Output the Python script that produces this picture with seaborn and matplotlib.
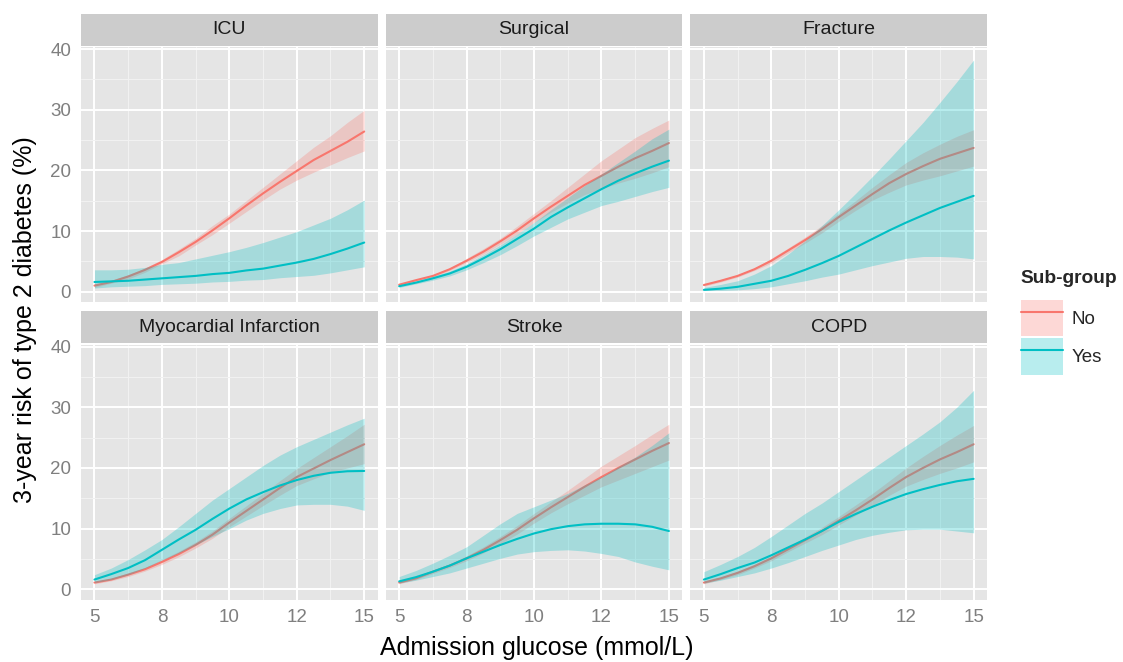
import numpy as np
import pandas as pd
import matplotlib
matplotlib.use("Agg")
import matplotlib.pyplot as plt
from matplotlib.patches import Rectangle, Patch
from matplotlib.lines import Line2D
import seaborn as sns

# Admission glucose grid (mmol/L)
glucose = [5, 5.75, 6.5, 7.25, 8, 8.5, 9, 9.5, 10, 10.5, 11, 11.5, 12,
           12.75, 13.5, 14.25, 15]

panels = ["ICU", "Surgical", "Fracture", "Myocardial Infarction", "Stroke", "COPD"]
subgroups = ["No", "Yes"]

# Estimated 3-year risk (%) with lower / upper confidence limits
icu_no = [1.0, 1.6, 2.5, 3.6, 4.9, 6.5, 8.2, 10.1, 12.1, 14.2, 16.2, 18.1, 19.9,
          21.7, 23.2, 24.7, 26.4]
icu_no_lo = [0.7, 1.4, 2.1, 3.2, 4.6, 5.9, 7.7, 9.4, 11.3, 13.2, 15.1, 16.9, 18.4,
             19.7, 20.9, 22.1, 23.2]
icu_no_hi = [1.3, 1.9, 2.8, 3.9, 5.3, 7.0, 8.8, 10.9, 12.8, 15.0, 17.2, 19.4, 21.6,
             23.8, 25.7, 27.9, 29.9]
icu_yes = [1.6, 1.7, 1.8, 2.0, 2.2, 2.4, 2.6, 2.9, 3.1, 3.5, 3.8, 4.3, 4.8,
           5.4, 6.2, 7.1, 8.1]
icu_yes_lo = [0.6, 0.8, 0.9, 1.0, 1.2, 1.3, 1.4, 1.6, 1.7, 1.9, 2.0, 2.3, 2.5,
              2.7, 3.1, 3.6, 4.1]
icu_yes_hi = [3.6, 3.6, 3.7, 4.0, 4.5, 4.8, 5.4, 6.0, 6.6, 7.3, 8.1, 9.0, 9.9,
              11.0, 12.1, 13.5, 15.1]

surg_no = [1.15, 1.9, 2.6, 3.7, 5.1, 6.6, 8.3, 10.1, 12.1, 14.0, 15.8, 17.6, 19.1,
           20.6, 22.0, 23.2, 24.5]
surg_no_lo = [1.0, 1.8, 2.4, 3.5, 4.8, 6.2, 7.8, 9.5, 11.4, 13.1, 14.6, 16.0, 17.0,
              17.9, 18.7, 19.6, 20.6]
surg_no_hi = [1.3, 2.0, 2.8, 3.9, 5.5, 7.1, 8.8, 10.8, 12.9, 15.0, 17.2, 19.4, 21.6,
              23.5, 25.4, 26.9, 28.3]
surg_yes = [0.9, 1.5, 2.2, 3.0, 4.1, 5.5, 7.0, 8.7, 10.4, 12.3, 13.9, 15.4, 16.9,
            18.3, 19.5, 20.6, 21.6]
surg_yes_lo = [0.7, 1.3, 1.9, 2.6, 3.6, 4.8, 6.1, 7.6, 9.2, 10.6, 12.0, 13.1, 14.2,
               14.9, 15.7, 16.5, 17.2]
surg_yes_hi = [1.1, 1.7, 2.5, 3.4, 4.6, 6.1, 7.7, 9.5, 11.4, 13.5, 15.5, 17.5, 19.4,
               21.3, 23.2, 25.2, 26.8]

frac_no = [1.1, 1.8, 2.6, 3.7, 5.1, 6.8, 8.5, 10.3, 12.3, 14.2, 16.1, 17.9, 19.4,
           20.7, 21.9, 22.8, 23.7]
frac_no_lo = [0.9, 1.6, 2.4, 3.5, 4.7, 6.4, 8.0, 9.7, 11.6, 13.4, 15.1, 16.4, 17.6,
              18.4, 19.1, 19.9, 20.7]
frac_no_hi = [1.3, 2.0, 2.8, 3.9, 5.5, 7.2, 9.0, 10.9, 12.9, 15.0, 17.2, 19.3, 21.3,
              22.9, 24.3, 25.6, 26.7]
frac_yes = [0.3, 0.5, 0.8, 1.3, 1.8, 2.6, 3.6, 4.7, 5.9, 7.3, 8.7, 10.1, 11.4,
            12.6, 13.8, 14.8, 15.8]
frac_yes_lo = [0.2, 0.2, 0.3, 0.5, 0.8, 1.3, 1.8, 2.4, 2.9, 3.6, 4.3, 4.9, 5.5,
               5.8, 5.8, 5.7, 5.4]
frac_yes_hi = [0.7, 1.2, 1.8, 2.9, 4.3, 6.2, 8.4, 10.9, 13.5, 16.2, 19.0, 21.9, 24.9,
               27.9, 31.2, 34.6, 38.2]

mi_no = [1.1, 1.6, 2.4, 3.3, 4.5, 5.8, 7.3, 9.0, 11.0, 12.9, 14.8, 16.7, 18.5,
         19.9, 21.3, 22.6, 23.9]
mi_no_lo = [0.9, 1.4, 2.1, 3.0, 4.1, 5.35, 6.8, 8.4, 10.3, 12.05, 13.8, 15.5, 17.1,
            18.2, 19.3, 20.0, 20.7]
mi_no_hi = [1.3, 1.8, 2.7, 3.6, 4.9, 6.25, 7.8, 9.6, 11.7, 13.75, 15.8, 17.9, 19.9,
            21.7, 23.5, 25.3, 27.2]
mi_yes = [1.6, 2.5, 3.5, 4.8, 6.5, 8.2, 9.8, 11.6, 13.3, 14.8, 16.0, 17.1, 18.0,
          18.7, 19.2, 19.45, 19.5]
mi_yes_lo = [1.1, 1.6, 2.4, 3.5, 4.8, 6.0, 7.3, 8.7, 10.0, 11.4, 12.5, 13.3, 13.9,
             14.0, 14.0, 13.7, 13.0]
mi_yes_hi = [2.4, 3.5, 4.9, 6.5, 8.2, 10.3, 12.5, 14.7, 16.6, 18.5, 20.4, 22.1, 23.5,
             24.7, 25.9, 27.1, 28.2]

stroke_no = [1.1, 1.8, 2.9, 3.9, 5.1, 6.5, 8.1, 9.8, 11.7, 13.5, 15.2, 16.9, 18.5,
             20.0, 21.4, 22.8, 24.1]
stroke_no_lo = [0.9, 1.6, 2.6, 3.6, 4.7, 6.0, 7.5, 9.1, 10.9, 12.6, 14.1, 15.5, 16.9,
                18.0, 19.1, 20.2, 21.3]
stroke_no_hi = [1.3, 2.0, 3.2, 4.2, 5.5, 7.0, 8.7, 10.5, 12.5, 14.4, 16.3, 18.3, 20.3,
                22.0, 23.7, 25.5, 27.2]
stroke_yes = [1.3, 2.0, 2.9, 3.9, 5.1, 6.2, 7.3, 8.3, 9.2, 9.9, 10.4, 10.7, 10.8,
              10.8, 10.7, 10.3, 9.6]
stroke_yes_lo = [1.0, 1.5, 2.1, 2.7, 3.5, 4.3, 5.1, 5.8, 6.2, 6.4, 6.5, 6.3, 5.9,
                 5.4, 4.5, 3.8, 3.2]
stroke_yes_hi = [2.1, 3.1, 4.3, 5.6, 7.0, 8.9, 10.8, 12.5, 13.6, 14.7, 15.8, 17.2, 18.5,
                 20.2, 21.8, 23.7, 25.8]

copd_no = [1.1, 1.8, 2.7, 3.8, 5.1, 6.6, 8.1, 9.6, 11.3, 13.0, 14.8, 16.7, 18.5,
           20.0, 21.4, 22.6, 23.9]
copd_no_lo = [0.9, 1.6, 2.4, 3.5, 4.7, 6.2, 7.6, 9.0, 10.6, 12.2, 13.8, 15.5, 17.0,
              18.1, 19.1, 20.0, 21.0]
copd_no_hi = [1.3, 2.0, 3.0, 4.1, 5.5, 7.0, 8.6, 10.2, 12.0, 13.9, 15.8, 17.9, 20.0,
              21.9, 23.7, 25.4, 27.0]
copd_yes = [1.6, 2.5, 3.5, 4.4, 5.6, 6.9, 8.2, 9.6, 11.1, 12.4, 13.6, 14.7, 15.7,
            16.5, 17.2, 17.8, 18.2]
copd_yes_lo = [1.0, 1.5, 2.1, 2.7, 3.5, 4.4, 5.4, 6.4, 7.3, 8.2, 8.9, 9.4, 9.8,
               9.9, 9.9, 9.6, 9.3]
copd_yes_hi = [2.9, 4.1, 5.4, 6.9, 8.7, 10.6, 12.5, 14.2, 16.1, 18.0, 19.9, 21.8, 23.7,
               25.6, 27.6, 30.0, 32.8]

x_ticks = [5, 8, 10, 12, 15]
x_minor = [6.5, 9, 11, 13.5]
y_ticks = [0, 10, 20, 30, 40]
y_minor = [5, 15, 25, 35]

series = [
    ("ICU", "No", icu_no, icu_no_lo, icu_no_hi),
    ("ICU", "Yes", icu_yes, icu_yes_lo, icu_yes_hi),
    ("Surgical", "No", surg_no, surg_no_lo, surg_no_hi),
    ("Surgical", "Yes", surg_yes, surg_yes_lo, surg_yes_hi),
    ("Fracture", "No", frac_no, frac_no_lo, frac_no_hi),
    ("Fracture", "Yes", frac_yes, frac_yes_lo, frac_yes_hi),
    ("Myocardial Infarction", "No", mi_no, mi_no_lo, mi_no_hi),
    ("Myocardial Infarction", "Yes", mi_yes, mi_yes_lo, mi_yes_hi),
    ("Stroke", "No", stroke_no, stroke_no_lo, stroke_no_hi),
    ("Stroke", "Yes", stroke_yes, stroke_yes_lo, stroke_yes_hi),
    ("COPD", "No", copd_no, copd_no_lo, copd_no_hi),
    ("COPD", "Yes", copd_yes, copd_yes_lo, copd_yes_hi),
]

rows = []
for panel, sub, mid, lo, hi in series:
    for x, m, l, h in zip(glucose, mid, lo, hi):
        rows.append(dict(panel=panel, sub=sub, glucose=x, risk=m, lo=l, hi=h))
df = pd.DataFrame(rows)

# Axis with evenly spaced tick positions for 5, 8, 10, 12, 15 mmol/L
knots_x = [-100, 5, 8, 10, 12, 15, 100]
knots_p = [-35, 0, 1, 2, 3, 4, 4 + 85 / 3]


def fwd(x):
    return np.interp(x, knots_x, knots_p)


def inv(p):
    return np.interp(p, knots_p, knots_x)


sns.set_theme(style="darkgrid")
plt.rcParams.update({
    "font.family": ["Liberation Sans", "DejaVu Sans"],
    "axes.facecolor": "#E5E5E5",
    "grid.color": "white",
    "axes.edgecolor": "none",
})

palette = {"No": "#F8766D", "Yes": "#00BFC4"}
band_alpha = 0.28
line_w = 1.5

g = sns.FacetGrid(df, col="panel", col_order=panels, col_wrap=3,
                  hue="sub", hue_order=subgroups, palette=palette,
                  sharex=True, sharey=True, despine=False)
g.figure.set_size_inches(11.23, 6.62)
g.figure.set_dpi(100)

for ax in g.axes.flat:
    ax.set_xscale("function", functions=(fwd, inv))


def smooth_band(data, color, **kws):
    ax = plt.gca()
    ax.fill_between(data["glucose"], data["lo"], data["hi"], color=color,
                    alpha=band_alpha, lw=0, zorder=2)
    sns.lineplot(data=data, x="glucose", y="risk", color=color, lw=line_w,
                 estimator=None, ax=ax, zorder=2)


g.map_dataframe(smooth_band)

g.figure.subplots_adjust(left=0.0721, right=0.879, top=0.929, bottom=0.0943,
                         wspace=0.027, hspace=0.167)

for i, ax in enumerate(g.axes.flat):
    ax.set_xlim(inv(-0.2), inv(4.2))
    ax.set_ylim(-1.7, 40.33)
    ax.set_xticks(x_ticks)
    ax.set_xticklabels([str(t) for t in x_ticks])
    ax.set_xticks(x_minor, minor=True)
    ax.set_yticks(y_ticks)
    ax.set_yticklabels([str(t) for t in y_ticks])
    ax.set_yticks(y_minor, minor=True)
    ax.grid(which="major", color="white", lw=1.4)
    ax.grid(which="minor", color="#F2F2F2", lw=0.7)
    ax.set_axisbelow(True)
    ax.set_xlabel("")
    ax.set_ylabel("")
    ax.set_title("")
    col, row = i % 3, i // 3
    ax.tick_params(which="minor", length=0)
    ax.tick_params(axis="both", which="major", colors="#7F7F7F",
                   labelsize=13.5, width=1.1, length=4, pad=3)
    ax.tick_params(axis="x", labelbottom=(row == 1), length=4 if row == 1 else 0)
    ax.tick_params(axis="y", labelleft=(col == 0), length=4 if col == 0 else 0)
    for lab in ax.get_xticklabels() + ax.get_yticklabels():
        lab.set_color("#7F7F7F")
    # Facet strip
    ax.add_patch(Rectangle((0, 1.005), 1, 0.125, transform=ax.transAxes,
                           facecolor="#CCCCCC", edgecolor="none", clip_on=False))
    ax.text(0.5, 1.005 + 0.0625, panels[i], transform=ax.transAxes,
            ha="center", va="center", fontsize=14, color="#1A1A1A")

fig = g.figure
fig.text(0.478, 0.003, "Admission glucose (mmol/L)", ha="center", va="bottom",
         fontsize=18, color="black")
fig.text(0.012, 0.517, "3-year risk of type 2 diabetes (%)", ha="left",
         va="center", rotation=90, fontsize=18, color="black")

handles = [
    (Patch(facecolor=palette[s], alpha=band_alpha, edgecolor="none"),
     Line2D([], [], color=palette[s], lw=line_w))
    for s in subgroups
]
leg = fig.legend(handles, subgroups, loc="center left",
                 bbox_to_anchor=(0.909, 0.513), frameon=False,
                 title="Sub-group", fontsize=13.5, handlelength=2.24,
                 handleheight=2.65, labelspacing=0.08, handletextpad=0.45,
                 borderaxespad=0, borderpad=0)
leg.get_title().set_fontweight("bold")
leg.get_title().set_fontsize(13.8)
leg._legend_box.align = "left"
leg._legend_box.sep = 9

fig.savefig("out.png", dpi=100)
